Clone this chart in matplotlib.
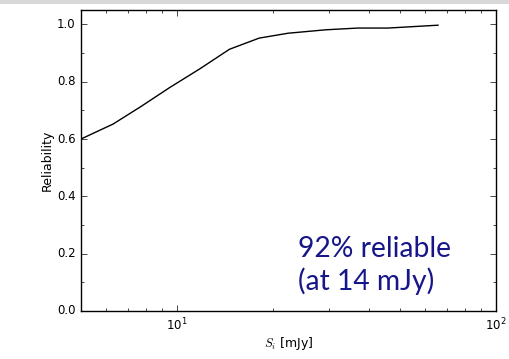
import matplotlib
matplotlib.use("Agg")
import matplotlib.pyplot as plt
from matplotlib.patches import Rectangle

flux = [5.0, 6.3, 7.7, 9.5, 11.8, 14.6, 18.1, 22.3, 29.3, 36.9, 45.8, 65.8]
reliability = [0.60, 0.652, 0.713, 0.78, 0.845, 0.913, 0.952, 0.969, 0.981, 0.987, 0.987, 0.997]
note_lines = ["92% reliable", "(at 14 mJy)"]

plt.style.use("classic")
plt.rcParams["font.family"] = ["DejaVu Sans"]

fig = plt.figure(figsize=(5.09, 3.59), dpi=100, facecolor="white")
ax = fig.add_axes([81/509, 48/359, 415/509, 301/359])

ax.plot(flux, reliability, color="black", lw=1.0)
ax.set_xscale("log")
ax.set_xlim(5, 100)
ax.set_ylim(0, 1.05)
ax.set_yticks([0.0, 0.2, 0.4, 0.6, 0.8, 1.0])
ax.set_yticks([0.1, 0.3, 0.5, 0.7, 0.9], minor=True)
ax.tick_params(labelsize=8.5)
ax.set_ylabel("Reliability", fontsize=9, labelpad=2)
ax.set_xlabel(r"$S_i$ [mJy]", fontsize=9, labelpad=1)

ax.text(0.523, 0.179, note_lines[0], transform=ax.transAxes, ha="left",
        va="baseline", fontsize=20.3, color="#16168a", family="Lato")
ax.text(0.523, 0.070, note_lines[1], transform=ax.transAxes, ha="left",
        va="baseline", fontsize=20.3, color="#16168a", family="Lato")

fig.patches.append(Rectangle((0, 1 - 4/359), 1, 4/359, transform=fig.transFigure,
                             facecolor="#d8d8d8", edgecolor="none"))

fig.savefig("out.png", dpi=100, facecolor="white")
